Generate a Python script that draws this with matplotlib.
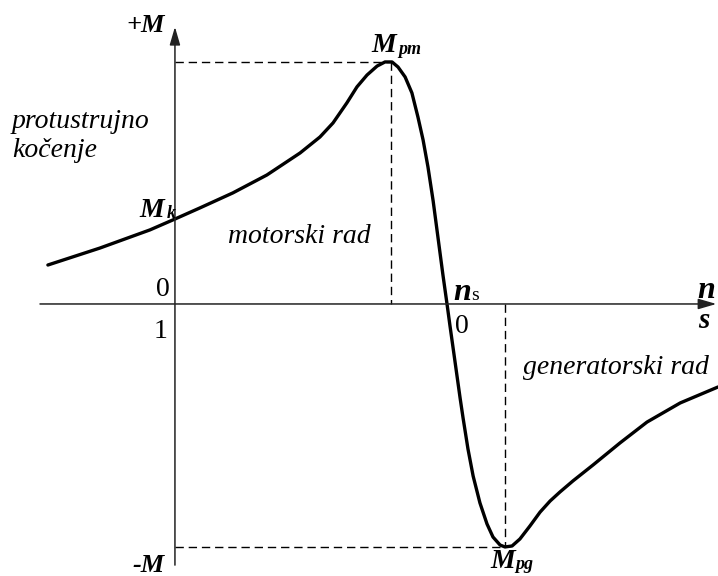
import matplotlib
matplotlib.use('Agg')
import matplotlib.pyplot as plt

plt.rcParams['font.family'] = ['Liberation Serif', 'DejaVu Serif']

# torque-slip curve (slip s, torque M relative to M_pm)
slip = [1.467, 1.276, 1.092, 1.000, 0.908, 0.787, 0.662, 0.540, 0.467, 0.419,
        0.368, 0.331, 0.294, 0.257, 0.228, 0.202, 0.180, 0.154, 0.129, 0.107,
        0.088, 0.070, 0.051, 0.033, 0.015, 0.000, -0.011, -0.026, -0.048,
        -0.059, -0.077, -0.096, -0.121, -0.147, -0.169, -0.195, -0.213,
        -0.239, -0.268, -0.305, -0.342, -0.379, -0.415, -0.463, -0.537,
        -0.636, -0.735, -0.857, -0.996]
torque = [0.161, 0.231, 0.306, 0.351, 0.397, 0.459, 0.533, 0.624, 0.690, 0.748,
          0.831, 0.897, 0.946, 0.983, 1.000, 1.000, 0.979, 0.938, 0.872, 0.773,
          0.678, 0.566, 0.426, 0.273, 0.120, 0.000, -0.091, -0.211, -0.388,
          -0.471, -0.599, -0.711, -0.822, -0.909, -0.963, -0.996, -1.004,
          -1.000, -0.971, -0.917, -0.860, -0.814, -0.777, -0.731, -0.665,
          -0.574, -0.488, -0.409, -0.343]

s_pm, m_pm = 0.206, 1.0      # pull-out point, motor
s_pg, m_pg = -0.213, -1.004  # pull-out point, generator

fig = plt.figure(figsize=(7.18, 5.76), dpi=100)
ax = fig.add_axes([0, 0, 1, 1])
ax.set_xlim(1.643, -0.996)
ax.set_ylim(-1.124, 1.256)
ax.axis('off')

# axes with arrows
arr = dict(arrowstyle='-|>,head_length=0.55,head_width=0.16', color='#222222',
           lw=1.1, mutation_scale=20, shrinkA=0, shrinkB=0)
ax.annotate('', xy=(-0.990, 0), xytext=(1.496, 0), arrowprops=arr)
ax.annotate('', xy=(1.0, 1.145), xytext=(1.0, -1.079), arrowprops=arr)

# dashed guides to the pull-out points
dash = dict(color='black', lw=1.0, ls=(0, (6, 3.5)))
ax.plot([1.0, s_pm], [m_pm, m_pm], **dash)
ax.plot([s_pm, s_pm], [m_pm, 0], **dash)
ax.plot([1.0, s_pg], [m_pg, m_pg], **dash)
ax.plot([s_pg, s_pg], [0, m_pg], **dash)

ax.plot(slip, torque, color='black', lw=2.4, solid_capstyle='round',
        solid_joinstyle='round')

bi = dict(fontweight='bold', fontstyle='italic', color='black', va='baseline')
it = dict(fontstyle='italic', color='black', fontsize=20, va='baseline', ha='left')
rm = dict(color='black', va='baseline')

ax.text(1.037, 1.125, '+M', fontsize=19, ha='right', **bi)
ax.text(1.037, -1.107, '-M', fontsize=19, ha='right', **bi)

ax.text(0.279, 1.041, 'M', fontsize=20, ha='left', **bi)
ax.text(0.180, 1.033, 'pm', fontsize=13, ha='left', **bi)
ax.text(-0.158, -1.091, 'M', fontsize=20, ha='left', **bi)
ax.text(-0.250, -1.097, 'pg', fontsize=13, ha='left', **bi)
ax.text(1.129, 0.360, 'M', fontsize=20, ha='left', **bi)
ax.text(1.029, 0.355, 'k', fontsize=13, ha='left', **bi)

ax.text(1.018, 0.033, '0', fontsize=20, ha='right', **rm)
ax.text(1.026, -0.140, '1', fontsize=20, ha='right', **rm)
ax.text(-0.022, 0.017, 'n', fontsize=23, ha='left', **bi)
ax.text(-0.088, 0.017, 's', fontsize=14, ha='left', **rm)
ax.text(-0.029, -0.120, '0', fontsize=20, ha='left', **rm)
ax.text(-0.919, 0.025, 'n', fontsize=23, ha='left', **bi)
ax.text(-0.923, -0.099, 's', fontsize=21, ha='left', **bi)

ax.text(1.599, 0.727, 'protustrujno', **it)
ax.text(1.599, 0.607, 'kočenje', **it)
ax.text(0.805, 0.252, 'motorski rad', **it)
ax.text(-0.279, -0.289, 'generatorski rad', **it)

fig.savefig('out.png', dpi=100)
